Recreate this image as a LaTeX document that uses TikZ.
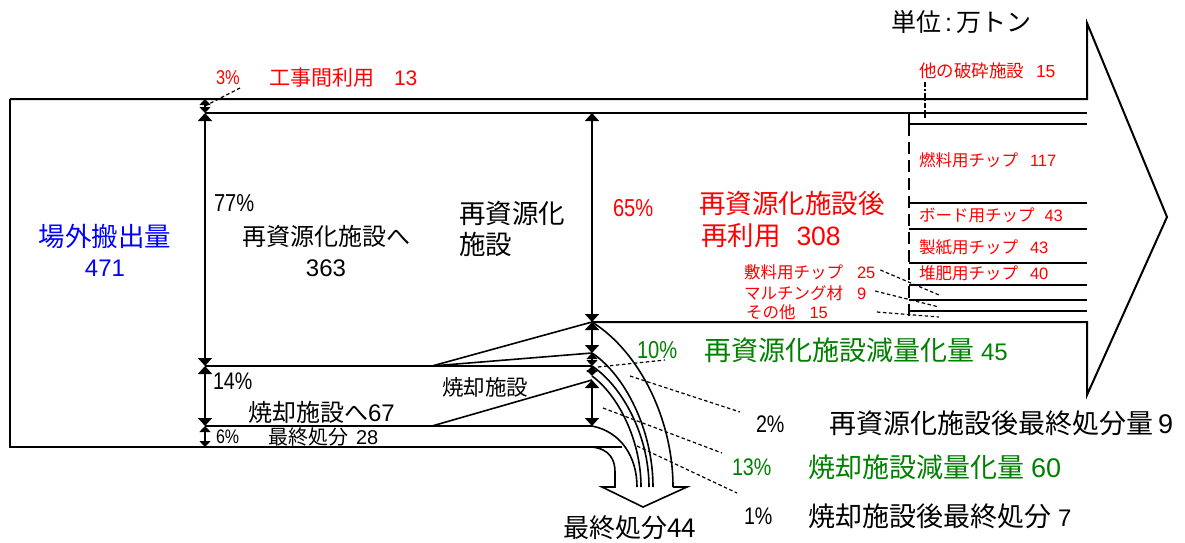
\documentclass[tikz,border=0pt]{standalone}
\usepackage{fontspec}
\setmainfont{Liberation Sans}
\newfontfamily\jpf{Noto Sans CJK JP}
\newfontfamily\nf{Liberation Sans}[FakeStretch=0.82]
\usetikzlibrary{arrows.meta}
\newcommand\J[1]{{\jpf #1}}
\newcommand\fs[1]{\fontsize{#1}{#1}\selectfont}
\definecolor{jred}{RGB}{255,0,0}
\definecolor{jblue}{RGB}{0,0,255}
\definecolor{jgreen}{RGB}{0,128,0}
\begin{document}
\begin{tikzpicture}[x=1pt,y=-1pt,line width=2pt,
  lbl/.style={inner sep=0pt,anchor=west},
  ctr/.style={inner sep=0pt,anchor=center},
  pct/.style={inner sep=0pt,anchor=west,font=\nf\fs{#1}},
  dim/.style={line width=1.6pt,{Triangle[length=8pt,width=14pt]}-{Triangle[length=8pt,width=14pt]}},
  dimsmall/.style={line width=1.4pt,{Triangle[length=6pt,width=11pt]}-{Triangle[length=6pt,width=11pt]}},
  lead/.style={line width=1.2pt,dash pattern=on 3.5pt off 2.5pt},
  flow/.style={line width=1.6pt},
]
\useasboundingbox (0,0) rectangle (1185,543);
% key coordinates
\coordinate (TL) at (10,99);
\coordinate (BL) at (10,447);
\coordinate (L113) at (205,113);
\coordinate (L366) at (205,366);
\coordinate (L426) at (205,426);
\coordinate (L447) at (205,447);
\coordinate (L99) at (205,99);
\coordinate (M113) at (592,113);
\coordinate (M322) at (592,322);
\coordinate (M353) at (592,353);
\coordinate (M366) at (592,366);
\coordinate (M376) at (592,376);
\coordinate (M380) at (592,380);
\coordinate (M426) at (592,426);
\coordinate (S366) at (432,366);
\coordinate (S426) at (432,426);
\coordinate (AT) at (1087,23);
\coordinate (AP) at (1167,217);
\coordinate (AB) at (1087,395);

% main outline
\draw (TL) -- (1087,99) -- (AT) -- (AP) -- (AB) -- (1087,322) -- (M322);
\draw (TL) -- (BL) -- (622,447);
\draw (L113) -- (1087,113);
\draw (909,113) -- (909,124) -- (1087,124);
\foreach \yy in {203,229,263,285,300,311} \draw (909,\yy) -- (1087,\yy);
\draw[line width=1.8pt,dash pattern=on 12pt off 6pt] (909,124) -- (909,322);
\draw[line width=1.2pt,dash pattern=on 5pt off 2pt on 1.5pt off 2pt] (925,82) -- (925,118);

% incineration box
\draw (L366) -- (M366);
\draw (L426) -- (M426);
\draw[flow] (S366) -- (M322);
\draw[flow] (S366) -- (M353);
\draw[flow] (S426) -- (M380);

% dimension arrows left
\draw[dimsmall] (L99) -- (L113);
\draw[dim] (L113) -- (L366);
\draw[dim] (L366) -- (L426);
\draw[dimsmall] (L426) -- (L447);
% dimension arrows middle
\draw[dim] (M113) -- (M322);
\draw[dim] (M322) -- (M353);
\draw[dimsmall] (M353) -- (M366);
\draw[dimsmall] (M366) -- (M376);
\draw[dim] (M380) -- (M426);

% curves to final disposal
\draw[flow] (M322) .. controls (640,352) and (673,420) .. (673,487);
\draw[flow] (M353) .. controls (625,375) and (653,430) .. (653,487);
\draw[flow] (M366) .. controls (622,386) and (649,435) .. (649,487);
\draw[flow] (M376) .. controls (618,395) and (641,440) .. (641,487);
\draw[flow] (M426) .. controls (622,432) and (637,458) .. (637,487);
\draw[flow] (592,447) .. controls (610,449) and (615,460) .. (615,472) -- (615,487) -- (602,487) -- (643,507) -- (687,487) -- (673,487);

% texts
\node[lbl,font=\fs{25}] (unit) at (890,22) {\J{単位}\,:\,\J{万トン}};
\node[pct=20,jred] (p3) at (215,78) {3\%};
\node[lbl,jred,font=\fs{21}] (koji) at (268,78) {\J{工事間利用}\hspace{20pt}13};
\node[lbl,jred,font=\fs{17.5}] (hasai) at (918,71) {\J{他の破砕施設}\hspace{12pt}15};
\node[ctr,jblue,font=\fs{26.5}] (out1) at (105,236) {\J{場外搬出量}};
\node[ctr,jblue,font=\fs{24}] (out2) at (105,268) {471};
\node[pct=24.5] (p77) at (213,203) {77\%};
\node[ctr,font=\fs{24}] (to1) at (326,236) {\J{再資源化施設へ}};
\node[ctr,font=\fs{24}] (to2) at (326,268) {363};
\node[lbl,font=\fs{26.5}] (fac1) at (458,213) {\J{再資源化}};
\node[lbl,font=\fs{26.5}] (fac2) at (458,244) {\J{施設}};
\node[pct=24.5,jred] (p65) at (612,208) {65\%};
\node[lbl,jred,font=\fs{26.5}] (re1) at (698,203) {\J{再資源化施設後}};
\node[lbl,jred,font=\fs{26.5}] (re2) at (700,236) {\J{再利用}\hspace{16pt}308};
\node[lbl,jred,font=\fs{16.5}] (c1) at (918,160) {\J{燃料用チップ}\hspace{12pt}117};
\node[lbl,jred,font=\fs{16.5}] (c2) at (918,215) {\J{ボード用チップ}\hspace{10pt}43};
\node[lbl,jred,font=\fs{16.5}] (c3) at (918,247) {\J{製紙用チップ}\hspace{12pt}43};
\node[lbl,jred,font=\fs{16.5}] (c4) at (918,273) {\J{堆肥用チップ}\hspace{12pt}40};
\node[lbl,jred,font=\fs{16.5}] (c5) at (743,272) {\J{敷料用チップ}\hspace{14pt}25};
\node[lbl,jred,font=\fs{16.5}] (c6) at (743,293) {\J{マルチング材}\hspace{14pt}9};
\node[lbl,jred,font=\fs{16.5}] (c7) at (745,312) {\J{その他}\hspace{14pt}15};
\node[pct=24.5,jgreen] (p10) at (636,350) {10\%};
\node[lbl,jgreen,font=\fs{27}] (red1) at (703,350) {\J{再資源化施設減量化量}\hspace{7pt}\fs{24}45};
\node[lbl,font=\fs{21.5}] (inc) at (441,387) {\J{焼却施設}};
\node[pct=24] (p14) at (212,381) {14\%};
\node[lbl,font=\fs{24}] (toinc) at (247,412) {\J{焼却施設へ}67};
\node[pct=19.5] (p6) at (215,437) {6\%};
\node[lbl,font=\fs{20}] (fin28) at (267,437) {\J{最終処分}\hspace{8pt}28};
\node[pct=24] (p2) at (755,424) {2\%};
\node[lbl,font=\fs{27}] (fin9) at (828,423) {\J{再資源化施設後最終処分量}\hspace{5pt}9};
\node[pct=24,jgreen] (p13) at (731,467) {13\%};
\node[lbl,jgreen,font=\fs{27}] (red2) at (807,467) {\J{焼却施設減量化量}\hspace{7pt}60};
\node[pct=24] (p1) at (743,516) {1\%};
\node[lbl,font=\fs{27}] (fin7) at (807,516) {\J{焼却施設後最終処分}\hspace{7pt}\fs{24}7};
\node[lbl,font=\fs{26}] (fin44) at (562,528) {\J{最終処分44}};

% leader lines
\coordinate (q3) at (240,88);
\draw[lead] (205,106) -- (q3);
\draw[lead] (c5.east) ++(4pt,2pt) coordinate (c5e) (c5e) -- (939,295);
\draw[lead] (c6.east) ++(8pt,2pt) coordinate (c6e) (c6e) -- (939,307);
\draw[lead] (c7.east) ++(48pt,0pt) coordinate (c7e) (c7e) -- (939,317);
\coordinate (q10) at (665,360);
\coordinate (q2) at (740,412);
\coordinate (q13) at (722,453);
\coordinate (q1) at (737,493);
\draw[lead] (598,367) -- (q10);
\draw[lead] (630,376) -- (q2);
\draw[lead] (603,408) -- (q13);
\draw[lead] (637,446) -- (q1);
\end{tikzpicture}
\end{document}
